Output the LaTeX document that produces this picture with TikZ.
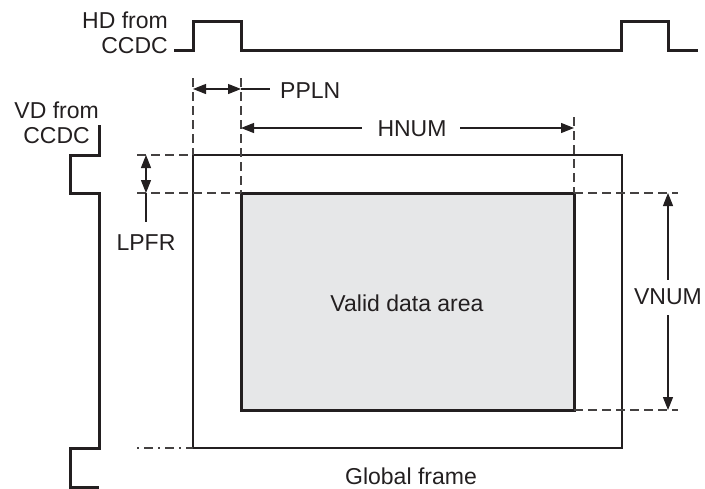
\documentclass[tikz,border=0pt]{standalone}
\usepackage{fontspec}
\setmainfont{Liberation Sans}
\usetikzlibrary{arrows.meta}
\definecolor{ink}{HTML}{231F20}
\definecolor{areafill}{HTML}{E6E7E8}
\begin{document}
\begin{tikzpicture}[x=1pt,y=-1pt,
  lbl/.style={font=\fontsize{23}{27}\selectfont, text=ink, inner sep=0pt},
  wave/.style={line width=3pt, line join=miter, draw=ink},
  dim/.style={line width=1.1pt, draw=ink},
  tip/.tip={Triangle[length=13pt,width=10pt]},
  dimarr/.style={dim, tip-tip},
  guide/.style={line width=1.1pt, dash pattern=on 9pt off 5pt, draw=ink!85},
  box/.style={rectangle, outer sep=0pt, inner sep=0pt, draw=ink}]
\useasboundingbox (0,0) rectangle (705,488);

% outer (global) frame and valid data area
\node[box, line width=2pt, minimum width=429pt, minimum height=293pt] (frame) at (407.5,301.5) {};
\node[box, line width=3pt, fill=areafill, minimum width=333pt, minimum height=217pt] (valid) at (407.5,301.5) {};
\node[lbl, anchor=base] (validtxt) at (407,311) {Valid data area};
\node[lbl, anchor=base] (globaltxt) at (411,484) {Global frame};

% HD waveform
\draw[wave] (174,50) -- (193,50) -- (193,21) -- (241,21) -- (241,50) -- (621,50) -- (621,21) -- (668,21) -- (668,50) -- (698,50);
\node[lbl, anchor=base east] (hd1) at (168,28) {HD from};
\node[lbl, anchor=base east] (hd2) at (168,53) {CCDC};

% VD waveform
\draw[wave] (99,125) -- (99,155) -- (70,155) -- (70,193) -- (99,193) -- (99,448) -- (70,448) -- (70,487) -- (99,487);
\node[lbl, anchor=base east] (vd1) at (99,118) {VD from};
\node[lbl, anchor=base east] (vd2) at (90,143) {CCDC};

% guide coordinates
\coordinate (gL) at (frame.north west |- 0,78);
\coordinate (vL) at (valid.north west |- 0,78);
\coordinate (vR) at (valid.north east |- 0,117);
\coordinate (hT) at (137,0 |- frame.north west);
\coordinate (hV) at (137,0 |- valid.north west);
\coordinate (hB) at (137,0 |- frame.south west);
\coordinate (vRt) at (678,0 |- valid.north east);
\coordinate (vRb) at (678,0 |- valid.south east);

% dashed guide lines
\draw[guide] (gL) -- (frame.north west);
\draw[guide] (vL) -- (valid.north west);
\draw[guide] (vR) -- (valid.north east);
\draw[guide] (hT) -- (frame.north west);
\draw[guide] (hV) -- (valid.north west);
\draw[guide, dash pattern=on 2pt off 5pt on 9pt off 5pt] (hB) -- (frame.south west);
\draw[guide] (valid.north east) -- (vRt);
\draw[guide] (valid.south east) -- (vRb);

% PPLN
\coordinate (p1) at (193,89);
\coordinate (p2) at (241,89);
\coordinate (p3) at (270,89);
\draw[dimarr] (p1) -- (p2);
\draw[dim] (p2) -- (p3);
\node[lbl, anchor=base west] (ppln) at (280,98) {PPLN};

% HNUM
\coordinate (h1) at (241,128);
\coordinate (h2) at (574,128);
\node[lbl, anchor=base] (hnum) at (412,136) {HNUM};
\draw[dim, tip-] (h1) -- (362,128);
\draw[dim, -tip] (460,128) -- (h2);

% LPFR
\coordinate (l1) at (146,155);
\coordinate (l2) at (146,193);
\coordinate (l3) at (146,222);
\draw[dimarr] (l1) -- (l2);
\draw[dim] (l2) -- (l3);
\node[lbl, anchor=base] (lpfr) at (146,250) {LPFR};

% VNUM
\coordinate (n1) at (668,193);
\coordinate (n2) at (668,410);
\node[lbl, anchor=center] (vnum) at (668,297) {VNUM};
\draw[dim, tip-] (n1) -- (668,280);
\draw[dim, -tip] (668,315) -- (n2);
\end{tikzpicture}
\end{document}
